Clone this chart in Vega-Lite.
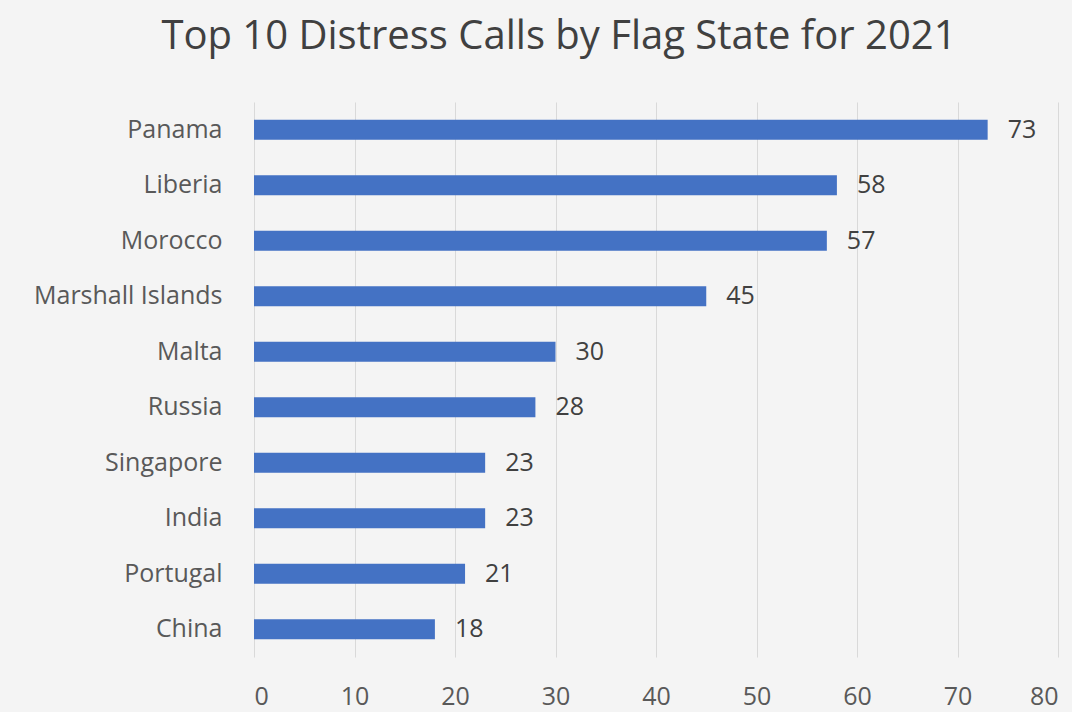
{
  "$schema": "https://vega.github.io/schema/vega-lite/v6.json",
  "autosize": "none",
  "width": 804,
  "height": 555,
  "padding": {"left": 254, "top": 102, "right": 14, "bottom": 55},
  "background": "#f4f4f4",
  "title": {
    "text": "Top 10 Distress Calls by Flag State for 2021",
    "font": "Open Sans",
    "fontSize": 40,
    "fontWeight": "normal",
    "color": "#404040",
    "anchor": "middle",
    "dx": -97,
    "offset": 45
  },
  "data": {
    "values": [
      {"country": "Panama", "calls": 73},
      {"country": "Liberia", "calls": 58},
      {"country": "Morocco", "calls": 57},
      {"country": "Marshall Islands", "calls": 45},
      {"country": "Malta", "calls": 30},
      {"country": "Russia", "calls": 28},
      {"country": "Singapore", "calls": 23},
      {"country": "India", "calls": 23},
      {"country": "Portugal", "calls": 21},
      {"country": "China", "calls": 18}
    ]
  },
  "encoding": {
    "y": {
      "field": "country",
      "type": "nominal",
      "sort": null,
      "title": null,
      "axis": {
        "domain": false,
        "ticks": false,
        "labelFont": "Open Sans",
        "labelFontSize": 25,
        "labelColor": "#595959",
        "labelPadding": 32,
        "labelLimit": 400
      }
    },
    "x": {
      "field": "calls",
      "type": "quantitative",
      "scale": {"domain": [0, 80], "nice": false},
      "title": null,
      "axis": {
        "values": [0, 10, 20, 30, 40, 50, 60, 70, 80],
        "domain": false,
        "ticks": false,
        "grid": true,
        "gridColor": "#d9d9d9",
        "gridWidth": 1,
        "labelFont": "Open Sans",
        "labelFontSize": 25,
        "labelColor": "#595959",
        "labelPadding": 27,
        "labelOverlap": false
      }
    }
  },
  "layer": [
    {"mark": {"type": "bar", "size": 20, "color": "#4472c4"}},
    {
      "mark": {"type": "text", "align": "left", "dx": 20, "font": "Open Sans", "fontSize": 25, "color": "#404040"},
      "encoding": {"text": {"field": "calls", "type": "quantitative"}}
    }
  ],
  "config": {"view": {"stroke": null}}
}
